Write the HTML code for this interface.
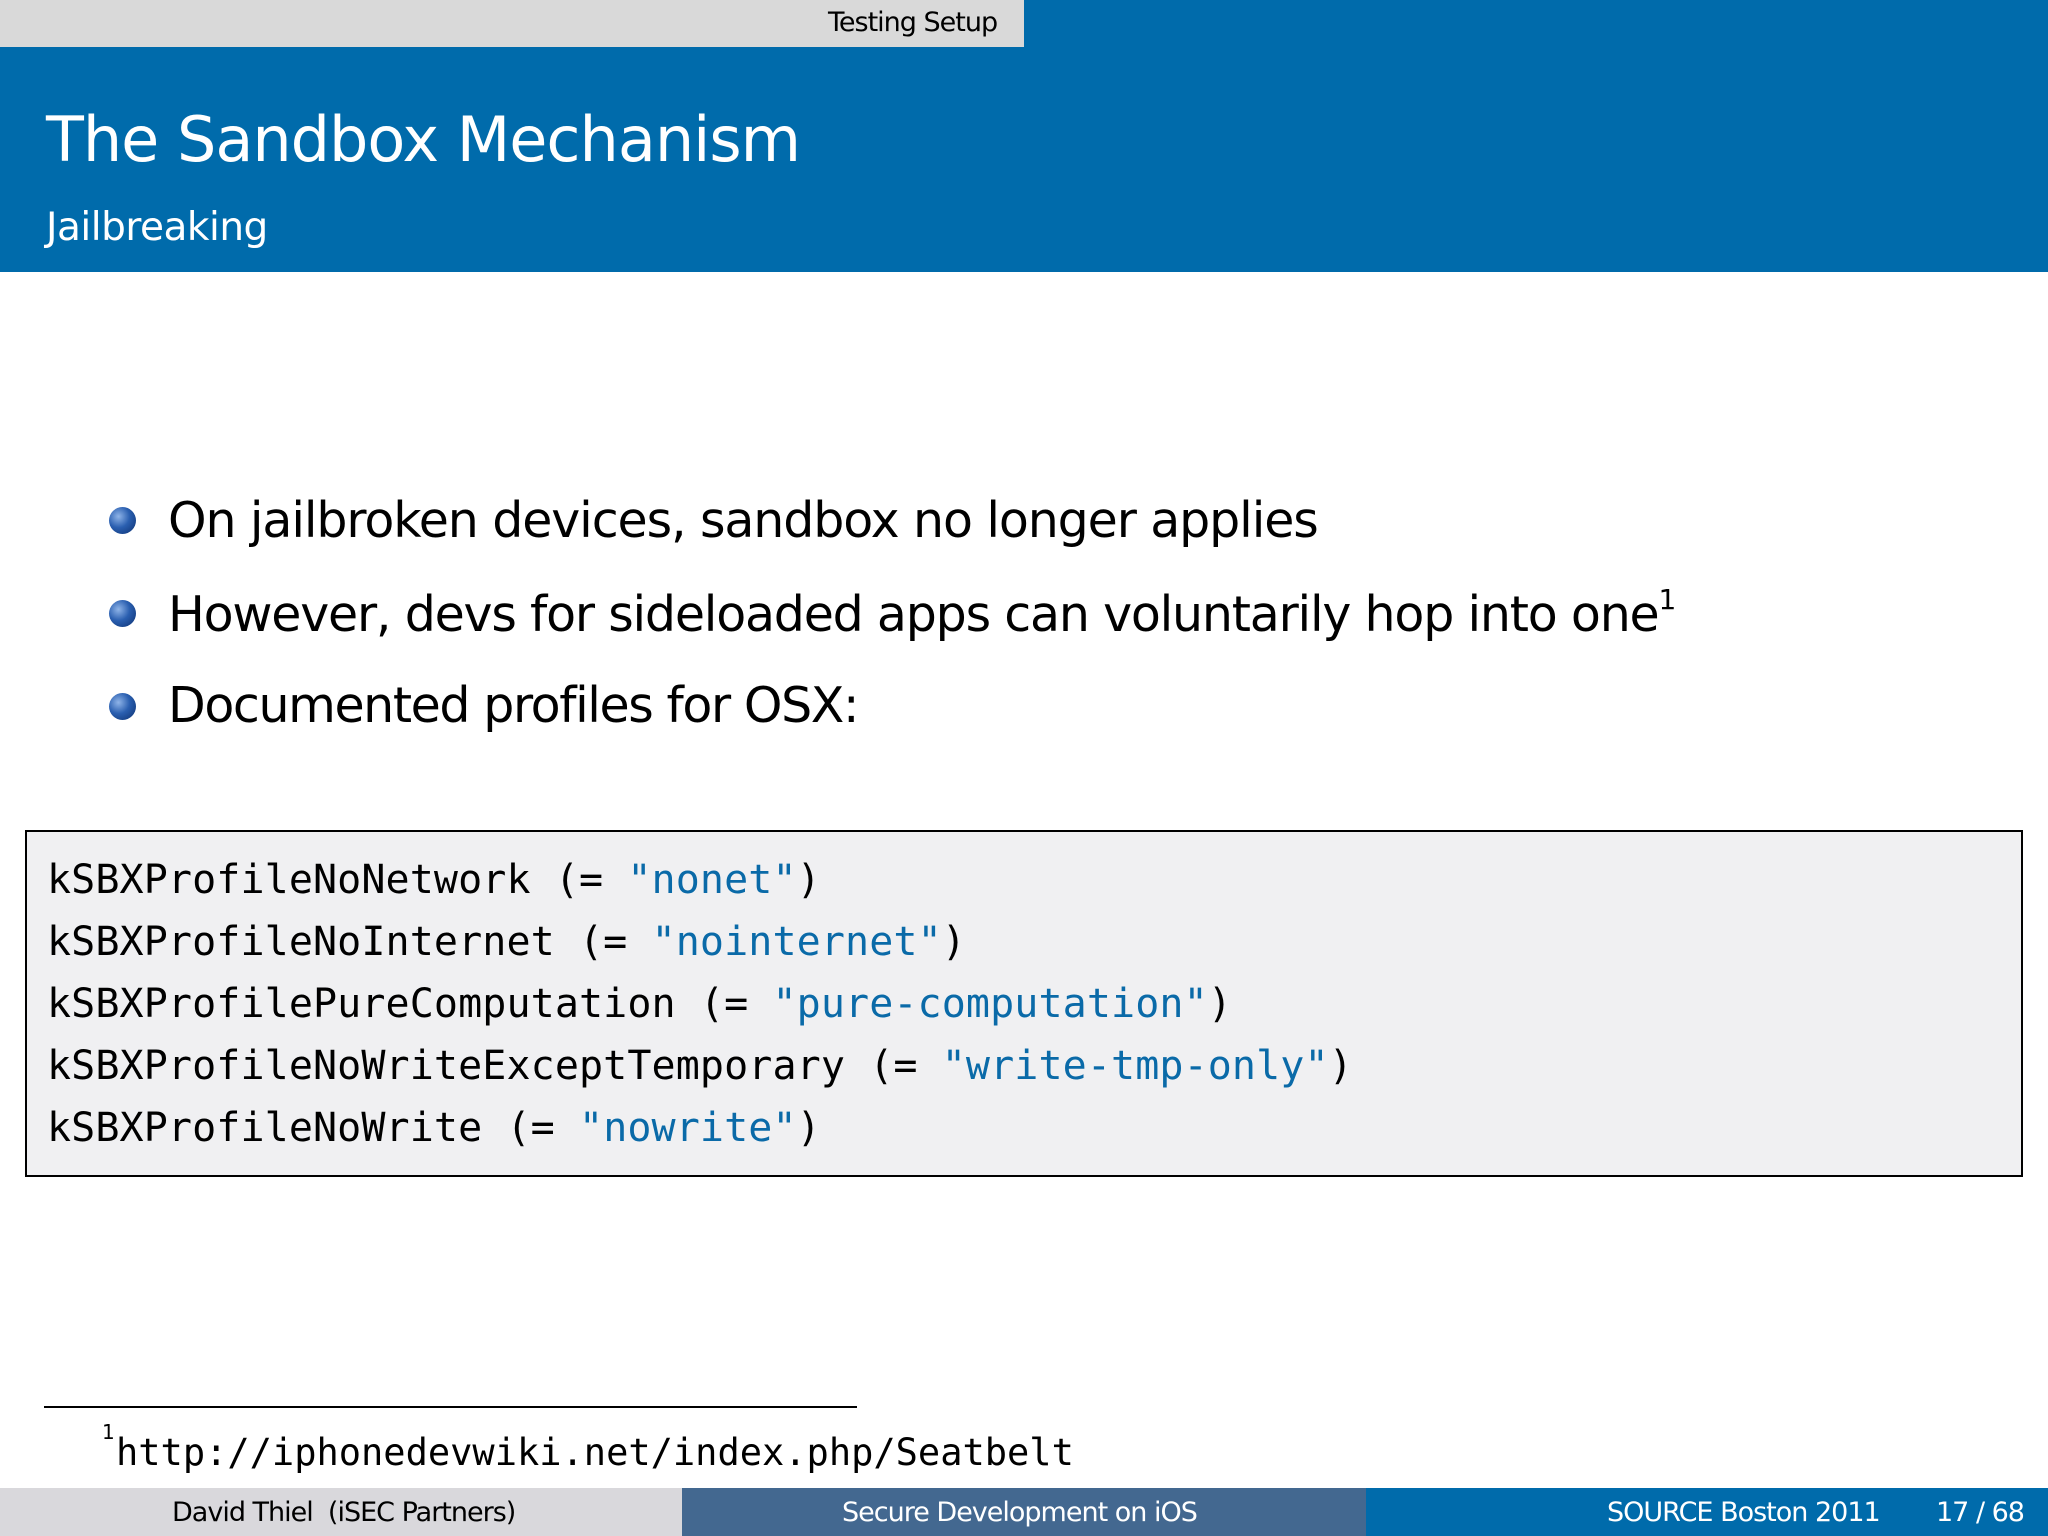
<!DOCTYPE html>
<html><head><meta charset="utf-8"><style>
*{margin:0;padding:0}
body{width:2048px;height:1536px;position:relative;background:#fff;font-family:"DejaVu Sans","Liberation Sans",sans-serif;overflow:hidden}
.a{position:absolute;white-space:nowrap}
.mono{font-family:"DejaVu Sans Mono","Liberation Mono",monospace}
.b{position:absolute;left:109px;width:27px;height:27px;border-radius:50%;background:radial-gradient(circle at 35% 35%,#8fb4e8 0%,#2a5fb0 45%,#0b2f6e 100%)}
.s{color:#0a6aa8}
</style></head><body>
<div class="a" style="left:0;top:0;width:1024px;height:47px;background:#d9d9d9"></div>
<div class="a" style="left:1024px;top:0;width:1024px;height:47px;background:#006bab"></div>
<div class="a" style="left:828px;top:7px;font-size:27px;color:#000;letter-spacing:-1px">Testing Setup</div>
<div class="a" style="left:0;top:47px;width:2048px;height:225px;background:#006bab"></div>
<div class="a" style="left:46px;top:103px;font-size:62px;color:#fff;letter-spacing:-1px">The Sandbox Mechanism</div>
<div class="a" style="left:46px;top:205px;font-size:39px;color:#fff;letter-spacing:-0.5px">Jailbreaking</div>

<div class="b" style="top:507px"></div>
<div class="b" style="top:600px"></div>
<div class="b" style="top:693px"></div>
<div class="a" style="left:168px;top:492px;font-size:49px;letter-spacing:-1.1px">On jailbroken devices, sandbox no longer applies</div>
<div class="a" style="left:168px;top:583px;font-size:49px;letter-spacing:-1.2px">However, devs for sideloaded apps can voluntarily hop into one<sup style="font-size:28px;vertical-align:22px">1</sup></div>
<div class="a" style="left:168px;top:677px;font-size:49px;letter-spacing:-1.4px">Documented profiles for OSX:</div>

<div class="a" style="left:25px;top:830px;width:1994px;height:343px;border:2px solid #000;background:#f0f0f2"></div>
<div class="a mono" style="left:47px;top:849px;font-size:40px;line-height:62px;letter-spacing:0.1px">kSBXProfileNoNetwork (= <span class="s">"nonet"</span>)<br>kSBXProfileNoInternet (= <span class="s">"nointernet"</span>)<br>kSBXProfilePureComputation (= <span class="s">"pure-computation"</span>)<br>kSBXProfileNoWriteExceptTemporary (= <span class="s">"write-tmp-only"</span>)<br>kSBXProfileNoWrite (= <span class="s">"nowrite"</span>)</div>

<div class="a" style="left:44px;top:1406px;width:813px;height:2px;background:#000"></div>
<div class="a" style="left:102px;top:1420px;font-size:20px">1</div>
<div class="a mono" style="left:116px;top:1431px;font-size:37px">http://iphonedevwiki.net/index.php/Seatbelt</div>

<div class="a" style="left:0;top:1488px;width:682px;height:48px;background:#d9d8dc"></div>
<div class="a" style="left:682px;top:1488px;width:684px;height:48px;background:#436890"></div>
<div class="a" style="left:1366px;top:1488px;width:682px;height:48px;background:#006bab"></div>
<div class="a" style="left:172px;top:1497px;font-size:27px;letter-spacing:-1px">David Thiel&nbsp; (iSEC Partners)</div>
<div class="a" style="left:842px;top:1497px;font-size:27px;color:#fff;letter-spacing:-1px">Secure Development on iOS</div>
<div class="a" style="left:1607px;top:1497px;font-size:27px;color:#fff;letter-spacing:-1px">SOURCE Boston 2011</div>
<div class="a" style="left:1936px;top:1497px;font-size:27px;color:#fff;letter-spacing:-1px">17 / 68</div>
</body></html>
